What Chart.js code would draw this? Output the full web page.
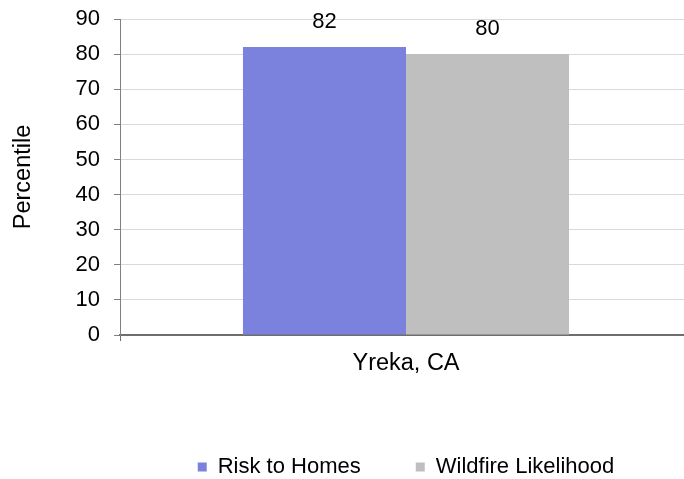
<!DOCTYPE html>
<html>
<head>
<meta charset="utf-8">
<script src="https://cdn.jsdelivr.net/npm/chart.js@4.4.1/dist/chart.umd.min.js"></script>
<style>
  html, body { margin: 0; padding: 0; background: #ffffff; overflow: hidden; }
  #wrap { width: 812px; height: 479px; }
</style>
</head>
<body>
<div id="wrap"><canvas id="c" width="812" height="479"></canvas></div>
<script>
const categories = ['Yreka, CA'];
const seriesNames = ['Risk to Homes', 'Wildfire Likelihood'];
const riskToHomes = [82];
const wildfireLikelihood = [80];
const yTicks = [0, 10, 20, 30, 40, 50, 60, 70, 80, 90];
const seriesColors = ['#7B82DD', '#BFBFBF'];

const FAMILY = '"Liberation Sans", Arial, sans-serif';
const tickFont = { family: FAMILY, size: 22 };
const labelFont = { family: FAMILY, size: 23.5 };

const valueLabels = {
  id: 'valueLabels',
  afterDatasetsDraw(chart) {
    const ctx = chart.ctx;
    ctx.save();
    ctx.font = '22px ' + FAMILY;
    ctx.fillStyle = '#000000';
    ctx.textAlign = 'center';
    ctx.textBaseline = 'alphabetic';
    chart.data.datasets.forEach((ds, i) => {
      chart.getDatasetMeta(i).data.forEach((bar, j) => {
        ctx.fillText(String(ds.data[j]), bar.x, bar.y - 19);
      });
    });
    ctx.restore();
  }
};

new Chart(document.getElementById('c'), {
  type: 'bar',
  data: {
    labels: categories,
    datasets: [
      { label: seriesNames[0], data: riskToHomes, backgroundColor: seriesColors[0], borderWidth: 0 },
      { label: seriesNames[1], data: wildfireLikelihood, backgroundColor: seriesColors[1], borderWidth: 0 }
    ]
  },
  options: {
    responsive: false,
    animation: false,
    devicePixelRatio: 1,
    categoryPercentage: 0.57,
    barPercentage: 1.0,
    layout: { padding: { top: 19, bottom: -9, left: 0, right: 0 } },
    plugins: {
      tooltip: { enabled: false },
      legend: {
        position: 'bottom',
        labels: {
          font: { family: FAMILY, size: 22 },
          color: '#000000',
          boxWidth: 9,
          boxHeight: 9,
          padding: 55
        }
      }
    },
    scales: {
      x: {
        offset: true,
        grid: { drawOnChartArea: false, offset: true, tickLength: 6, tickColor: '#6e6e6e', lineWidth: 1 },
        border: { color: '#6e6e6e', width: 2 },
        ticks: { font: labelFont, color: '#000000', padding: 8 },
        afterFit(s) { s.height = 66; }
      },
      y: {
        min: 0,
        max: 90,
        afterBuildTicks(s) { s.ticks = yTicks.map(v => ({ value: v })); },
        grid: { color: '#D9D9D9', tickColor: '#808080', tickLength: 6, lineWidth: 1 },
        border: { color: '#808080', width: 1 },
        ticks: { font: tickFont, color: '#000000', padding: 14 },
        title: { display: true, text: 'Percentile', font: labelFont, color: '#000000', padding: { top: 9, bottom: 0 } },
        afterFit(s) { s.width = 120; s.paddingTop = 0; s.paddingBottom = 0; }
      },
      yRight: {
        position: 'right',
        display: true,
        grid: { display: false },
        ticks: { display: false },
        border: { display: false },
        afterFit(s) { s.width = 120; s.paddingTop = 0; s.paddingBottom = 0; }
      }
    }
  },
  plugins: [valueLabels]
});
</script>
</body>
</html>
